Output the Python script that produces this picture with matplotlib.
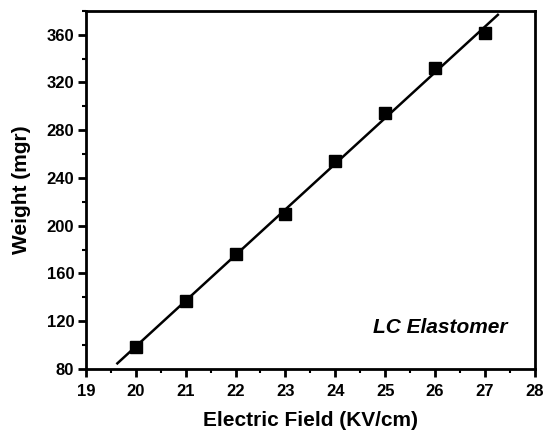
import numpy as np
import matplotlib
matplotlib.use('Agg')
import matplotlib.pyplot as plt
from matplotlib.ticker import MultipleLocator

# data
field = [20, 21, 22, 23, 24, 25, 26, 27]
weight = [98, 137, 176, 210, 254, 294, 332, 361]
fit_range = [19.63, 27.26]
x_ticks = [19, 20, 21, 22, 23, 24, 25, 26, 27, 28]
y_ticks = [80, 120, 160, 200, 240, 280, 320, 360]

plt.rcParams['font.family'] = ['Liberation Sans', 'DejaVu Sans']

fig = plt.figure(figsize=(5.44, 4.32), dpi=100)
ax = fig.add_axes([0.158, 0.146, 0.825, 0.829])

# linear fit
slope, intercept = np.polyfit(field, weight, 1)
xf = np.array(fit_range)
ax.plot(xf, slope * xf + intercept, color='black', lw=1.8)
ax.plot(field, weight, 's', color='black', ms=8)

ax.set_xlim(19, 28)
ax.set_ylim(80, 380)
ax.set_xticks(x_ticks)
ax.set_yticks(y_ticks)
ax.xaxis.set_minor_locator(MultipleLocator(0.5))
ax.yaxis.set_minor_locator(MultipleLocator(20))

for s in ax.spines.values():
    s.set_linewidth(2)
ax.tick_params(which='major', direction='out', length=5.5, width=2,
               labelsize=12)
ax.tick_params(axis='x', which='major', pad=5)
ax.tick_params(axis='y', which='major', pad=3)
ax.tick_params(which='minor', direction='out', length=3, width=1.5)
for lab in ax.get_xticklabels() + ax.get_yticklabels():
    lab.set_fontweight('bold')

ax.set_xlabel('Electric Field (KV/cm)', fontsize=15, fontweight='bold', labelpad=9)
ax.set_ylabel('Weight (mgr)', fontsize=15, fontweight='bold', labelpad=11)

ax.text(27.45, 115, 'LC Elastomer', fontsize=15, style='italic',
        fontweight='bold', ha='right', va='center')

plt.savefig('out.png', dpi=100)
